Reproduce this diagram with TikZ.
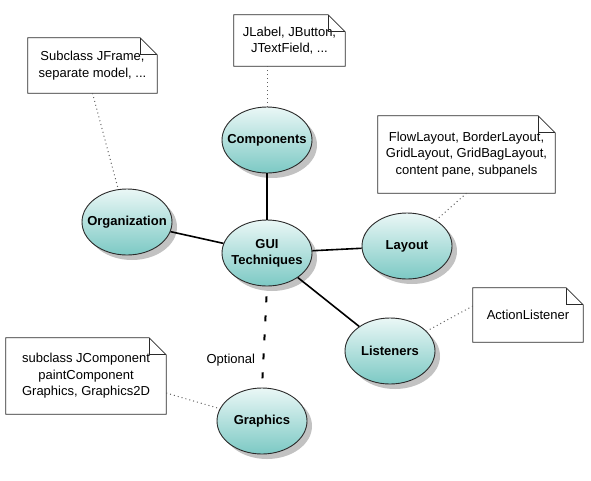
\documentclass[tikz,border=0pt]{standalone}
\usepackage{fontspec}
\setmainfont{Liberation Sans}
\usetikzlibrary{shapes.geometric,shadows}
\definecolor{teallight}{HTML}{EAF7F6}
\definecolor{tealdark}{HTML}{7CC9C4}
\definecolor{edgec}{HTML}{2A2A2A}
\definecolor{dotc}{HTML}{606060}
\tikzset{
 concept/.style={ellipse, draw=edgec, line width=0.9pt, minimum width=90pt, minimum height=66pt,
   inner sep=0pt, top color=teallight, bottom color=tealdark,
   drop shadow={shadow xshift=5pt, shadow yshift=-5pt, fill=black!40, opacity=0.6},
   font=\bfseries\fontsize{13}{16}\selectfont},
 notebox/.style={inner sep=0pt, align=center, font=\fontsize{13}{16.5}\selectfont},
 link/.style={line width=1.6pt, black},
 optlink/.style={line width=2pt, black, dash pattern=on 6pt off 13pt},
 notelink/.style={dotc, line width=1pt, dash pattern=on 1pt off 3pt},
 foldline/.style={draw=edgec, line width=0.8pt}
}
\newcommand\drawnote[1]{%
  \draw[foldline] (#1.south west) -- (#1.north west) -- ([xshift=-17pt]#1.north east)
     -- ([yshift=-17pt]#1.north east) -- (#1.south east) -- cycle;
  \draw[foldline] ([xshift=-17pt]#1.north east) -- ([xshift=-17pt,yshift=-17pt]#1.north east)
     -- ([yshift=-17pt]#1.north east);}
\begin{document}
\begin{tikzpicture}[x=1pt,y=-1pt]
\useasboundingbox (0,0) rectangle (591,480);
% notes
\node[notebox, minimum width=129pt, minimum height=55pt] (noteOrg) at (92.5,65.5) {Subclass JFrame,\\separate model, ...};
\node[notebox, minimum width=111pt, minimum height=51pt] (noteComp) at (289.5,40.5) {JLabel, JButton,\\JTextField, ...};
\node[notebox, minimum width=177pt, minimum height=77pt] (noteLay) at (466.5,154.5) {FlowLayout, BorderLayout,\\GridLayout, GridBagLayout,\\content pane, subpanels};
\node[notebox, minimum width=110pt, minimum height=54pt] (noteLis) at (528,315) {ActionListener};
\node[notebox, minimum width=160pt, minimum height=76pt] (noteGra) at (86,376) {subclass JComponent\\paintComponent\\Graphics, Graphics2D};
\drawnote{noteOrg}
\drawnote{noteComp}
\drawnote{noteLay}
\drawnote{noteLis}
\drawnote{noteGra}
% concepts
\node[concept] (comp) at (267,140) {\makebox[0pt]{Components}};
\node[concept] (gui) at (267,253) {\makebox[0pt]{\begin{tabular}{@{}c@{}}GUI\\Techniques\end{tabular}}};
\node[concept] (org) at (127,222) {\makebox[0pt]{Organization}};
\node[concept] (lay) at (407,246) {\makebox[0pt]{Layout}};
\node[concept] (lis) at (390,351) {\makebox[0pt]{Listeners}};
\node[concept] (gra) at (262,421) {\makebox[0pt]{Graphics}};
% links
\draw[link] (comp) -- (gui);
\draw[link] (org) -- (gui);
\draw[link] (gui) -- (lay);
\draw[link] (gui) -- (lis);
\draw[optlink, shorten <=10pt, shorten >=3pt] (gui.south) -- (gra.north)
  node[pos=0.73, left=4pt, font=\fontsize{13}{15}\selectfont] (optlbl) {Optional};
% note links
\draw[notelink] (noteComp.south -| comp.north) -- (comp.north);
\draw[notelink] (noteOrg.south) -- (org);
\draw[notelink] (noteLay.south) -- (lay);
\draw[notelink] ([yshift=9pt]noteLis.west) -- (lis);
\draw[notelink] ([yshift=-17pt]noteGra.east) -- (gra);
\end{tikzpicture}
\end{document}
